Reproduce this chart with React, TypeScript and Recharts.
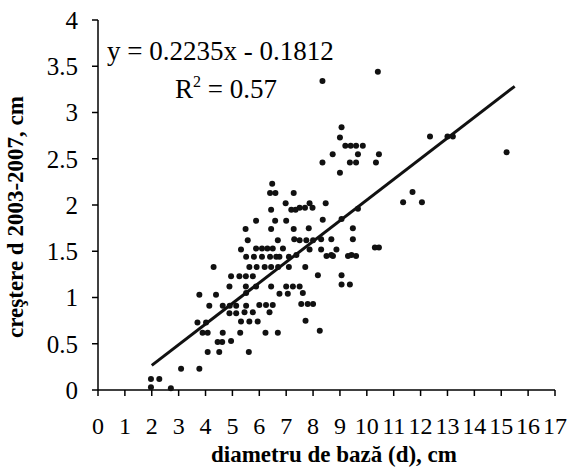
import { ScatterChart, Scatter, XAxis, YAxis, ReferenceLine } from 'recharts'

// diametru de bază (cm) / creştere 2003-2007 (cm)
const diamX = [
  8.35, 10.41, 9.06, 9.0, 9.2, 9.4, 9.6, 9.85, 8.73, 9.67, 10.45, 8.35, 9.37, 9.6, 10.34, 9.0,
  12.35, 13.0, 13.2, 15.2, 11.7, 11.35, 12.05, 7.87, 7.5, 7.7, 7.98, 8.47, 8.36, 9.06, 9.67, 7.84,
  9.48, 7.5, 7.75, 8.0, 8.3, 8.68, 9.48, 7.87, 8.3, 8.87, 10.3, 10.45, 8.68, 9.43,
  6.48, 6.4, 6.6, 7.28, 6.98, 7.19, 7.35, 6.44, 5.88, 6.59, 7.0, 5.49, 6.44, 7.28, 5.57, 6.69,
  7.3, 5.32, 5.88, 6.1, 6.3, 6.5, 6.88, 5.51, 5.8, 6.1, 6.4, 6.63, 6.75, 7.1, 7.38, 8.5,
  8.74, 9.3, 9.6, 4.3, 5.63, 5.9, 6.2, 6.44, 6.7, 7.1, 7.71, 4.95, 5.26, 5.5, 5.76, 8.18,
  9.06, 4.89, 5.5, 5.88, 6.44, 7.0, 7.25, 7.5, 9.06, 9.37, 3.77, 4.39, 5.51, 6.75, 7.06, 7.62,
  4.14, 4.64, 4.9, 5.14, 5.51, 6.0, 6.25, 6.5, 7.56, 7.8, 8.0, 4.89, 5.14, 5.45, 5.76, 6.38,
  3.7, 4.02, 5.32, 5.63, 5.94, 7.72, 3.89, 4.08, 4.64, 5.29, 6.23, 6.69, 8.25, 4.45, 4.62, 4.95,
  4.08, 4.51, 5.61, 3.09, 3.77, 1.97, 2.28, 1.97, 2.71,
]
const growthY = [
  3.34, 3.44, 2.84, 2.73, 2.64, 2.64, 2.64, 2.64, 2.55, 2.55, 2.55, 2.46, 2.46, 2.46, 2.46, 2.35,
  2.74, 2.74, 2.74, 2.57, 2.14, 2.03, 2.03, 2.02, 1.97, 1.97, 1.97, 2.02, 1.84, 1.85, 1.96, 1.75,
  1.75, 1.62, 1.62, 1.62, 1.63, 1.63, 1.63, 1.52, 1.52, 1.52, 1.54, 1.54, 1.46, 1.46,
  2.23, 2.13, 2.13, 2.13, 2.02, 1.95, 1.95, 1.95, 1.83, 1.83, 1.83, 1.74, 1.74, 1.74, 1.62, 1.62,
  1.63, 1.52, 1.53, 1.53, 1.53, 1.53, 1.53, 1.44, 1.44, 1.44, 1.44, 1.44, 1.44, 1.44, 1.46, 1.45,
  1.45, 1.45, 1.45, 1.33, 1.33, 1.33, 1.33, 1.33, 1.33, 1.33, 1.33, 1.23, 1.23, 1.23, 1.23, 1.24,
  1.24, 1.12, 1.12, 1.12, 1.12, 1.12, 1.12, 1.12, 1.14, 1.14, 1.03, 1.03, 1.05, 1.04, 1.04, 1.05,
  0.91, 0.91, 0.91, 0.91, 0.91, 0.92, 0.92, 0.92, 0.93, 0.93, 0.93, 0.83, 0.83, 0.84, 0.84, 0.84,
  0.73, 0.73, 0.74, 0.74, 0.74, 0.75, 0.62, 0.62, 0.62, 0.62, 0.62, 0.62, 0.64, 0.52, 0.52, 0.53,
  0.41, 0.41, 0.41, 0.23, 0.23, 0.12, 0.12, 0.03, 0.02,
]

// linear trend  y = 0.2235x - 0.1812
const trendX = [2, 15.5]
const trendY = [0.266, 3.283]

const xTicks = [0, 1, 2, 3, 4, 5, 6, 7, 8, 9, 10, 11, 12, 13, 14, 15, 16, 17]
const yTicks = [0, 0.5, 1, 1.5, 2, 2.5, 3, 3.5, 4]

const points = diamX.map((x, i) => ({ x, y: growthY[i] }))

const serif = '"Liberation Serif", "Times New Roman", serif'
const xTickStyle = { fill: '#000', fontSize: 24, fontFamily: serif }
const yTickStyle = { fill: '#000', fontSize: 25, fontFamily: serif }

function Dot(props: { cx?: number; cy?: number }) {
  if (props.cx == null || props.cy == null) return <g />
  return <circle cx={props.cx} cy={props.cy} r={3} fill="#111" />
}

export default function App() {
  return (
    <div style={{ position: 'absolute', left: 0, top: 0, width: 569, height: 470, background: '#fff' }}>
      <ScatterChart width={569} height={470} margin={{ top: 20, right: 14, left: 0, bottom: 0 }}>
        <XAxis
          type="number"
          dataKey="x"
          domain={[0, 17]}
          ticks={xTicks}
          interval={0}
          height={80}
          tickSize={6}
          tickMargin={21}
          tick={xTickStyle}
          stroke="#000"
          strokeWidth={1.5}
        />
        <YAxis
          type="number"
          dataKey="y"
          domain={[0, 4]}
          ticks={yTicks}
          interval={0}
          width={98}
          tickSize={6}
          tickMargin={14}
          tick={yTickStyle}
          stroke="#000"
          strokeWidth={1.5}
        />
        <Scatter data={points} fill="#111" shape={<Dot />} isAnimationActive={false} />
        <ReferenceLine
          segment={[
            { x: trendX[0], y: trendY[0] },
            { x: trendX[1], y: trendY[1] },
          ]}
          stroke="#111"
          strokeWidth={3}
        />
      </ScatterChart>
      <svg width={569} height={470} style={{ position: 'absolute', left: 0, top: 0, pointerEvents: 'none' }}>
        <text x={107} y={60} fontSize={27} fontFamily={serif} fill="#000">
          y = 0.2235x - 0.1812
        </text>
        <text x={175} y={98} fontSize={27} fontFamily={serif} fill="#000">
          R<tspan fontSize={16} dy={-11}>2</tspan>
          <tspan dy={11}> = 0.57</tspan>
        </text>
        <text x={334} y={462} fontSize={23} fontWeight="bold" fontFamily={serif} textAnchor="middle" fill="#000">
          diametru de bază (d), cm
        </text>
        <text
          transform="translate(23, 217) rotate(-90)"
          fontSize={23}
          fontWeight="bold"
          fontFamily={serif}
          textAnchor="middle"
          fill="#000"
        >
          creştere d 2003-2007, cm
        </text>
      </svg>
    </div>
  )
}
